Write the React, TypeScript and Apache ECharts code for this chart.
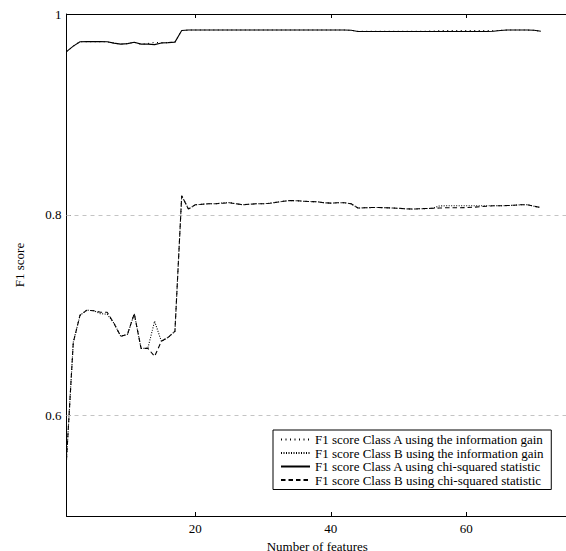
import React, { useEffect, useRef } from "react";
import * as echarts from "echarts";

const features: number[] = Array.from({ length: 71 }, (_, i) => i + 1);

const classAChi: number[] = [
  0.9625, 0.968, 0.9724, 0.9725, 0.9725, 0.9725, 0.9723, 0.971, 0.970, 0.9705,
  0.9718, 0.970, 0.970, 0.9695, 0.9712, 0.9715, 0.972, 0.9835, 0.984, 0.984,
  0.984, 0.984, 0.984, 0.984, 0.984, 0.984, 0.984, 0.984, 0.984, 0.984,
  0.984, 0.984, 0.984, 0.984, 0.984, 0.984, 0.984, 0.984, 0.984, 0.984,
  0.984, 0.984, 0.9838, 0.9826, 0.9825, 0.9825, 0.9825, 0.9825, 0.9825, 0.9825,
  0.9825, 0.9825, 0.9825, 0.9825, 0.9825, 0.9825, 0.9825, 0.9825, 0.9825, 0.9825,
  0.9825, 0.9825, 0.9825, 0.9828, 0.9835, 0.984, 0.984, 0.984, 0.984, 0.9838,
  0.9828,
];

const classAInfo: number[] = [
  0.9625, 0.968, 0.9724, 0.9725, 0.9725, 0.9725, 0.9723, 0.971, 0.970, 0.9705,
  0.9718, 0.970, 0.9705, 0.9718, 0.9712, 0.9715, 0.972, 0.9835, 0.984, 0.984,
  0.984, 0.984, 0.984, 0.984, 0.984, 0.984, 0.984, 0.984, 0.984, 0.984,
  0.984, 0.984, 0.984, 0.984, 0.984, 0.984, 0.984, 0.984, 0.984, 0.984,
  0.984, 0.984, 0.9838, 0.9828, 0.9827, 0.9828, 0.9828, 0.9828, 0.9828, 0.9828,
  0.9828, 0.9828, 0.9828, 0.9828, 0.983, 0.9834, 0.9834, 0.9834, 0.9834, 0.9834,
  0.9834, 0.9834, 0.9834, 0.9834, 0.9836, 0.984, 0.984, 0.984, 0.984, 0.9838,
  0.9828,
];

const classBChi: number[] = [
  0.556, 0.673, 0.700, 0.705, 0.7045, 0.703, 0.703, 0.692, 0.679, 0.681,
  0.7015, 0.667, 0.667, 0.659, 0.674, 0.678, 0.684, 0.819, 0.8057, 0.810,
  0.8105, 0.811, 0.811, 0.8115, 0.812, 0.811, 0.810, 0.8105, 0.811, 0.811,
  0.8115, 0.8125, 0.8135, 0.8142, 0.814, 0.8135, 0.8132, 0.813, 0.812, 0.8116,
  0.812, 0.812, 0.811, 0.8067, 0.807, 0.8072, 0.8073, 0.807, 0.8068, 0.8065,
  0.806, 0.8057, 0.806, 0.8062, 0.8065, 0.8067, 0.807, 0.807, 0.807, 0.8072,
  0.8075, 0.808, 0.8085, 0.809, 0.809, 0.8092, 0.8095, 0.810, 0.810, 0.8085,
  0.8073,
];

const classBInfo: number[] = [
  0.556, 0.673, 0.700, 0.705, 0.7045, 0.7015, 0.701, 0.692, 0.679, 0.681,
  0.7015, 0.667, 0.667, 0.694, 0.674, 0.678, 0.684, 0.819, 0.8057, 0.810,
  0.8105, 0.811, 0.811, 0.8118, 0.8122, 0.811, 0.810, 0.8105, 0.811, 0.811,
  0.8115, 0.8125, 0.8135, 0.8142, 0.814, 0.8135, 0.8132, 0.813, 0.812, 0.8116,
  0.812, 0.812, 0.811, 0.8067, 0.807, 0.8072, 0.8073, 0.807, 0.8068, 0.8065,
  0.806, 0.8057, 0.806, 0.8062, 0.8065, 0.8088, 0.809, 0.809, 0.809, 0.809,
  0.809, 0.809, 0.809, 0.809, 0.809, 0.8092, 0.8095, 0.810, 0.810, 0.8085,
  0.8073,
];

const seriesNames: string[] = [
  "F1 score Class A using the information gain",
  "F1 score Class B using the information gain",
  "F1 score Class A using chi-squared statistic",
  "F1 score Class B using chi-squared statistic",
];

const xTicks: number[] = [20, 40, 60];
const yTicks: number[] = [0.6, 0.8, 1];
const gridLines: number[] = [0.6, 0.8];

const FONT = "Liberation Serif, Times New Roman, serif";

export default function App() {
  const ref = useRef<HTMLDivElement>(null);
  useEffect(() => {
    if (!ref.current) return;
    const chart = echarts.init(ref.current, undefined, { renderer: "svg" });
    const pair = (ys: number[]) => features.map((x, i) => [x, ys[i]]);
    const mk = (name: string, ys: number[], type: any, z: number, extra: any = {}) => ({
      name,
      type: "line",
      data: pair(ys),
      symbol: "none",
      z,
      lineStyle: { color: "#000", width: 1.1, type },
      itemStyle: { color: "#000" },
      ...extra,
    });
    chart.setOption({
      animation: false,
      backgroundColor: "#fff",
      textStyle: { fontFamily: FONT },
      grid: { left: 66.5, right: -2, top: 14, bottom: 35, containLabel: false, outerBoundsMode: "none" },
      xAxis: [
        {
          type: "value",
          min: 1,
          max: 75,
          position: "bottom",
          name: "Number of features",
          nameLocation: "middle",
          nameGap: 18,
          nameTextStyle: { fontFamily: FONT, fontSize: 13, color: "#000", lineHeight: 13 },
          axisLine: { show: true, lineStyle: { color: "#000", width: 1 } },
          axisTick: { show: true, inside: true, length: 4, customValues: xTicks, lineStyle: { color: "#000" } },
          axisLabel: { customValues: xTicks, fontFamily: FONT, fontSize: 13, color: "#000", margin: 6 },
          splitLine: { show: false },
        },
        {
          type: "value",
          min: 1,
          max: 75,
          position: "top",
          axisLine: { show: true, lineStyle: { color: "#000", width: 1 } },
          axisTick: { show: true, inside: true, length: 4, customValues: xTicks, lineStyle: { color: "#000" } },
          axisLabel: { show: false },
          splitLine: { show: false },
        },
      ],
      yAxis: {
        type: "value",
        min: 0.5,
        max: 1,
        name: "F1 score",
        nameLocation: "middle",
        nameGap: 41,
        nameRotate: 90,
        nameTextStyle: { fontFamily: FONT, fontSize: 13, color: "#000" },
        axisLine: { show: true, lineStyle: { color: "#000", width: 1 } },
        axisTick: { show: true, inside: true, length: 4, customValues: yTicks, lineStyle: { color: "#000" } },
        axisLabel: {
          customValues: yTicks,
          fontFamily: FONT,
          fontSize: 13,
          color: "#000",
          margin: 5,
          formatter: (v: number) => (Math.abs(v - 1) < 1e-9 ? "1" : v.toFixed(1)),
        },
        splitLine: { show: false },
      },
      legend: {
        orient: "vertical",
        left: 273,
        top: 430,
        padding: [3, 7, 3, 7],
        itemGap: 0.5,
        itemWidth: 29,
        itemHeight: 12,
        backgroundColor: "#fff",
        borderColor: "#000",
        borderWidth: 1,
        borderRadius: 0,
        data: seriesNames,
        itemStyle: { opacity: 0 },
        textStyle: { fontFamily: FONT, fontSize: 13, color: "#000", lineHeight: 13 },
      },
      series: [
        mk(seriesNames[0], classAInfo, [1, 3.5], 3, {
          markLine: {
            silent: true,
            symbol: "none",
            label: { show: false },
            lineStyle: { color: "#c4c4c4", width: 1, type: [4, 4] },
            data: gridLines.map((v) => ({ yAxis: v })),
            z: 1,
          },
        }),
        mk(seriesNames[1], classBInfo, [1, 1.5], 3),
        mk(seriesNames[2], classAChi, "solid", 4),
        mk(seriesNames[3], classBChi, [4.5, 3], 4),
      ],
    });
    return () => chart.dispose();
  }, []);
  return <div ref={ref} style={{ width: 566, height: 551, position: "absolute", left: 0, top: 0 }} />;
}
